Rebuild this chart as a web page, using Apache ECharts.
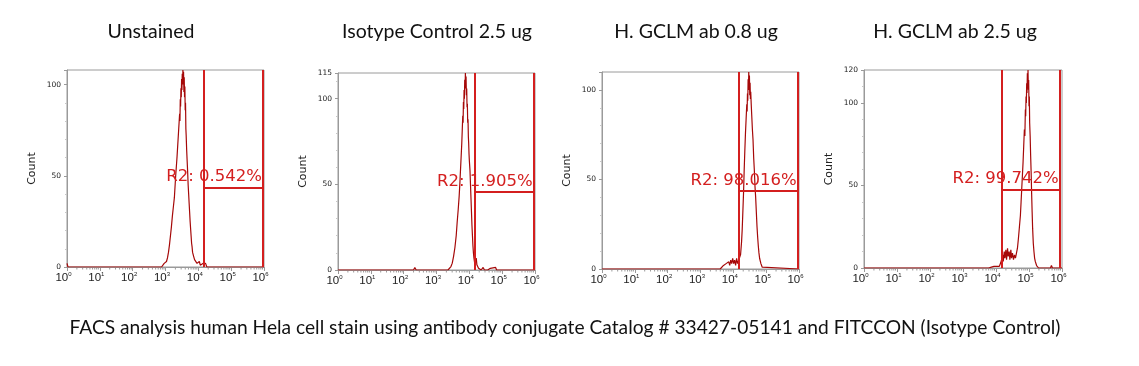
<!DOCTYPE html>
<html><head><meta charset="utf-8">
<script src="https://cdn.jsdelivr.net/npm/echarts@6/dist/echarts.min.js"></script>
<style>html,body{margin:0;padding:0;background:#fff;}#c{width:1139px;height:366px;}</style>
</head><body><div id="c"></div>
<script>
// Panel titles and caption
var titles = ["Unstained", "Isotype Control 2.5 ug", "H. GCLM ab 0.8 ug", "H. GCLM ab 2.5 ug"];
var caption = "FACS analysis human Hela cell stain using antibody conjugate Catalog # 33427-05141 and FITCCON (Isotype Control)";
// x tick labels (exponents of 10)
var xExponents = [0, 1, 2, 3, 4, 5, 6];
// y axis maxima per panel
var yMax = [108, 115, 110, 120];
// gate: [left, right] in decades, gate line height (count), label
var gateLeft = [4.17, 4.15, 4.17, 4.16];
var gateRight = [5.97, 5.96, 5.96, 5.93];
var gateHeight = [43.5, 45.5, 43.7, 47.7];
var gateLabel = ["R2: 0.542%", "R2: 1.905%", "R2: 98.016%", "R2: 99.742%"];

// Histograms: [log10 fluorescence (decades), count]
var histUnstained = [[0,2],[0.03,0],[2.88,0],[2.92,1],[2.96,2],[3.00,1],[3.03,3],[3.06,5],[3.09,8],[3.12,12],[3.15,17],[3.18,22],[3.21,28],[3.24,33],[3.27,38],[3.29,44],[3.31,50],[3.33,55],[3.35,60],[3.37,66],[3.39,72],[3.41,78],[3.43,84],[3.44,80],[3.45,92],[3.46,88],[3.47,98],[3.48,93],[3.49,103],[3.50,97],[3.51,106],[3.52,100],[3.53,108],[3.54,101],[3.55,107],[3.56,96],[3.57,104],[3.58,93],[3.59,99],[3.60,86],[3.61,90],[3.62,76],[3.63,72],[3.645,64],[3.66,58],[3.675,52],[3.69,45],[3.705,40],[3.72,35],[3.735,30],[3.75,25],[3.765,21],[3.78,17],[3.795,13],[3.81,11],[3.825,8],[3.84,9],[3.855,6],[3.87,7],[3.885,4],[3.90,5],[3.92,3],[3.94,4],[3.96,2],[3.98,3],[4.00,2],[4.03,3],[4.06,1],[4.09,2],[4.12,1],[4.15,2],[4.18,1],[4.22,2],[4.26,0],[4.30,1],[4.35,0],[4.40,1],[4.44,0],[6,0]];
var histIsotype = [[0,0],[2.30,0],[2.34,1.5],[2.38,0],[3.05,0],[3.10,1],[3.15,0],[3.35,0],[3.40,1],[3.44,2],[3.48,4],[3.52,8],[3.56,13],[3.60,20],[3.63,28],[3.66,35],[3.69,43],[3.71,50],[3.73,58],[3.75,66],[3.77,74],[3.785,82],[3.80,90],[3.81,86],[3.82,98],[3.83,94],[3.84,105],[3.85,100],[3.86,111],[3.87,106],[3.88,115],[3.89,108],[3.90,113],[3.91,102],[3.92,106],[3.93,95],[3.94,97],[3.95,86],[3.96,88],[3.97,78],[3.98,74],[3.99,68],[4.00,64],[4.02,58],[4.035,50],[4.05,42],[4.065,34],[4.08,26],[4.095,20],[4.11,14],[4.125,10],[4.14,7],[4.155,5],[4.17,3],[4.19,5],[4.21,7],[4.23,3],[4.25,4],[4.28,1],[4.32,2],[4.36,0],[4.42,1.5],[4.46,0],[4.52,1],[4.56,0],[4.64,1],[4.68,0],[4.80,1.5],[4.83,0],[6,0]];
var histGclm08 = [[0,0],[3.60,0],[3.66,1],[3.70,2],[3.74,1],[3.78,3],[3.82,2],[3.86,4],[3.89,2],[3.92,5],[3.95,3],[3.98,6],[4.01,3],[4.04,5],[4.07,2],[4.10,6],[4.13,3],[4.16,4],[4.19,3],[4.22,8],[4.25,15],[4.27,22],[4.29,32],[4.31,42],[4.33,55],[4.35,66],[4.37,76],[4.39,84],[4.41,92],[4.42,88],[4.43,98],[4.44,94],[4.45,106],[4.46,100],[4.47,110],[4.48,103],[4.49,108],[4.50,97],[4.51,104],[4.52,95],[4.53,99],[4.545,92],[4.56,86],[4.58,78],[4.60,72],[4.62,62],[4.64,55],[4.66,46],[4.68,40],[4.70,32],[4.72,24],[4.74,18],[4.76,13],[4.78,9],[4.80,6],[4.82,5],[4.84,3],[4.86,2],[4.88,1],[4.91,0],[6,0]];
var histGclm25 = [[0,0],[3.78,0],[3.82,1],[3.86,0.5],[3.90,1.5],[3.94,1],[3.98,2],[4.02,1],[4.06,2],[4.10,1],[4.14,3],[4.17,5],[4.20,8],[4.22,4],[4.25,10],[4.27,6],[4.30,11],[4.32,5],[4.35,12],[4.37,7],[4.40,10],[4.42,5],[4.45,11],[4.47,6],[4.50,9],[4.53,5],[4.56,8],[4.59,6],[4.62,9],[4.65,12],[4.68,18],[4.71,25],[4.74,32],[4.76,40],[4.78,48],[4.80,56],[4.82,64],[4.84,74],[4.86,84],[4.875,80],[4.89,96],[4.90,92],[4.91,104],[4.92,100],[4.93,112],[4.94,106],[4.95,118],[4.96,110],[4.97,120],[4.98,108],[4.99,114],[5.00,98],[5.01,104],[5.02,88],[5.035,80],[5.05,68],[5.065,58],[5.08,45],[5.095,34],[5.11,24],[5.13,15],[5.15,10],[5.17,6],[5.19,4],[5.21,3],[5.23,1.5],[5.26,1],[5.29,0],[5.65,0],[5.68,1.5],[5.71,0],[6,0]];
var histograms = [histUnstained, histIsotype, histGclm08, histGclm25];

// layout of the four plot boxes (px)
var boxes = [
  {left: 67, top: 70, width: 197, height: 197},
  {left: 338, top: 73, width: 197, height: 197},
  {left: 602, top: 72, width: 197, height: 197},
  {left: 864, top: 70, width: 198, height: 198}
];
var titleCenters = [151, 437, 696, 955];

var curveColor = '#a50808';
var gateColor = '#d41f1f';
var axisGrey = '#9a9a9a';

var minorPos = [];
for (var n = 0; n < 6; n++) for (var k = 2; k <= 9; k++) minorPos.push([n + Math.log10(k)]);

var grids = [], xAxes = [], yAxes = [], series = [], graphics = [];
boxes.forEach(function (b, i) {
  grids.push({left: b.left, top: b.top, width: b.width, height: b.height, show: true, borderColor: axisGrey, borderWidth: 1, backgroundColor: '#fff'});
  xAxes.push({
    type: 'value', gridIndex: i, min: 0, max: 6, interval: 1,
    axisLine: {lineStyle: {color: axisGrey}},
    axisTick: {show: true, length: 4, lineStyle: {color: axisGrey}},
    splitLine: {show: false},
    axisLabel: {
      margin: 4, padding: [0, 7, 0, 0],
      formatter: function (v) { return '{b|10}{s|' + xExponents[Math.round(v)] + '}'; },
      rich: {
        b: {fontSize: 11.5, fontFamily: 'Liberation Sans', color: '#222', lineHeight: 14},
        s: {fontSize: 6, fontFamily: 'Liberation Sans', color: '#222', verticalAlign: 'top', lineHeight: 14}
      }
    }
  });
  var showAll = (i === 1 || i === 3);
  yAxes.push({
    type: 'value', gridIndex: i, min: 0, max: yMax[i], interval: 50,
    name: 'Count', nameLocation: 'middle', nameGap: 29, nameRotate: 90,
    nameTextStyle: {fontFamily: 'DejaVu Sans', fontSize: 11, color: '#222'},
    axisLine: {show: true, lineStyle: {color: axisGrey}},
    axisTick: {show: true, length: 3, lineStyle: {color: axisGrey}},
    minorTick: {show: true, splitNumber: 5, length: 2, lineStyle: {color: '#c8c8c8'}},
    splitLine: {show: false},
    axisLabel: {
      margin: 6, fontSize: 7.5, fontFamily: 'DejaVu Sans', color: '#222',
      formatter: showAll ? function (v) { return v; } : function (v) { return v % 50 === 0 ? v : ''; }
    }
  });
  series.push({
    type: 'line', xAxisIndex: i, yAxisIndex: i, data: histograms[i],
    showSymbol: false, symbol: 'none', animation: false, clip: true,
    lineStyle: {color: curveColor, width: 1.2}, z: 3,
    markLine: {
      silent: true, symbol: 'none', animation: false,
      lineStyle: {color: gateColor, width: 2, type: 'solid'},
      label: {show: false},
      data: [
        [{coord: [gateLeft[i], 0]}, {coord: [gateLeft[i], yMax[i]]}],
        [{coord: [gateRight[i], 0]}, {coord: [gateRight[i], yMax[i]]}],
        [{coord: [gateLeft[i], gateHeight[i]], label: {show: true, position: 'insideEndTop', formatter: gateLabel[i], color: gateColor, fontSize: 16.5, fontFamily: 'DejaVu Sans', distance: [1, 2]}},
         {coord: [gateRight[i], gateHeight[i]]}]
      ]
    }
  });
  series.push({
    type: 'custom', xAxisIndex: i, yAxisIndex: i, data: minorPos, clip: false, silent: true, animation: false,
    renderItem: function (params, api) {
      var p = api.coord([api.value(0), 0]);
      return {type: 'line', shape: {x1: p[0], y1: p[1], x2: p[0], y2: p[1] + 2.5}, style: {stroke: axisGrey, lineWidth: 1}};
    }
  });
  graphics.push({type: 'text', x: titleCenters[i], y: 32, style: {text: titles[i], font: '19.5px Lato', fill: '#111', textAlign: 'center', textVerticalAlign: 'middle'}});
});
graphics.push({type: 'text', x: 565, y: 328, style: {text: caption, font: '19.2px Lato', fill: '#111', textAlign: 'center', textVerticalAlign: 'middle'}});

var chart = echarts.init(document.getElementById('c'), null, {renderer: 'canvas'});
chart.setOption({
  animation: false,
  backgroundColor: '#fff',
  grid: grids, xAxis: xAxes, yAxis: yAxes, series: series, graphic: graphics
});
</script></body></html>
